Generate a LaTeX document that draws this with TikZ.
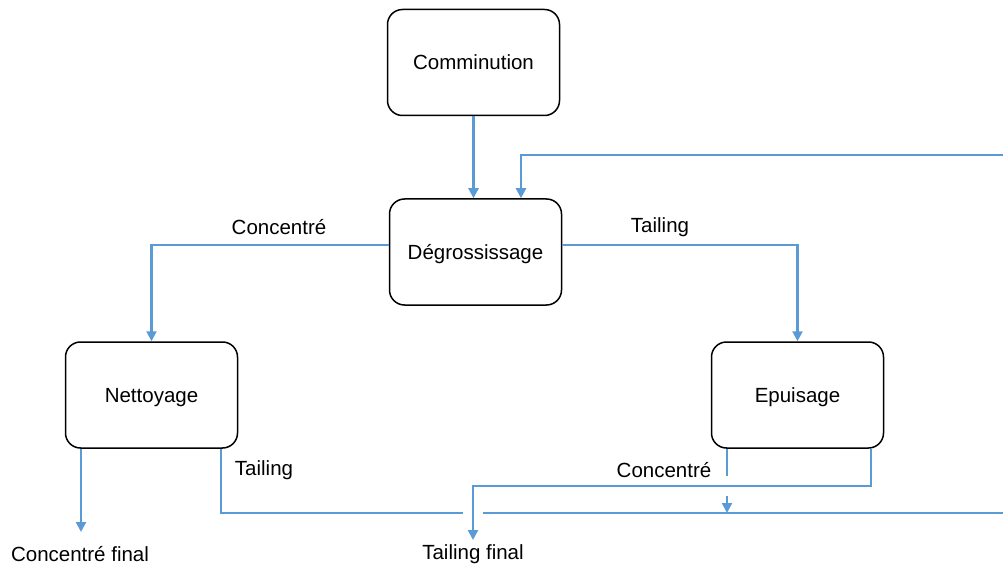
\documentclass[tikz,border=0pt]{standalone}
\usepackage{fontspec}
\setmainfont{Liberation Sans}
\usetikzlibrary{arrows.meta}
\definecolor{flow}{HTML}{5B9BD5}
\begin{document}
\begin{tikzpicture}[x=1pt,y=-1pt,
  proc/.style={draw=black,line width=1.5pt,rounded corners=15pt,minimum width=172pt,minimum height=106pt,inner sep=0pt,text depth=0pt,font=\fontsize{20.5}{24}\selectfont},
  lbl/.style={font=\fontsize{20.5}{24}\selectfont,inner sep=0pt},
  flowline/.style={draw=flow,line width=2.2pt},
  arr/.style={flowline,-{Triangle[length=10pt,width=10pt]}}]
\useasboundingbox (0,0) rectangle (1003,569);
% process boxes
\node[proc] (comm) at (473.5,62.5) {Comminution};
\node[proc] (deg) at (475.5,252) {Dégrossissage};
\node[proc] (net) at (151.5,395) {Nettoyage};
\node[proc] (epu) at (797.5,395) {Epuisage};
% outputs
\node[lbl] (cf) at (80,554) {Concentré final};
\node[lbl] (tf) at (473,554) {Tailing final};
% connector labels
\node[lbl] (l1) at (279,227) {Concentré};
\node[lbl] (l2) at (660,227) {Tailing};
\node[lbl] (l3) at (264,470) {Tailing};
\node[lbl] (l4) at (664,470) {Concentré};
% free ends
\coordinate (rtop) at (1003,155);
\coordinate (rbot) at (1003,513);
\coordinate (cfTop) at (81,532);
\coordinate (gapL) at (463,513);
\coordinate (gapR) at (483,513);
\coordinate (eCa) at (727,476);
\coordinate (eCb) at (727,496);
\coordinate (eCc) at (727,513);
\coordinate (tfBend) at (473,486);
\coordinate (tfTop) at (473,540);
% connectors
\draw[arr] (comm.south) -- (comm.south |- deg.north);
\draw[arr] (rtop) -| ([xshift=45.5pt]deg.north);
\draw[arr] ([yshift=7pt]deg.west) -| (net.north);
\draw[arr] ([yshift=7pt]deg.east) -| (epu.north);
\draw[arr] (net.south -| cfTop) -- (cfTop);
\draw[flowline] ([xshift=69.5pt]net.south) |- (gapL);
\draw[flowline] (gapR) -- (rbot);
\draw[flowline] ([xshift=-70.5pt]epu.south) -- (eCa);
\draw[arr] (eCb) -- (eCc);
\draw[arr] ([xshift=73.5pt]epu.south) |- (tfBend) -- (tfTop);
\end{tikzpicture}
\end{document}
